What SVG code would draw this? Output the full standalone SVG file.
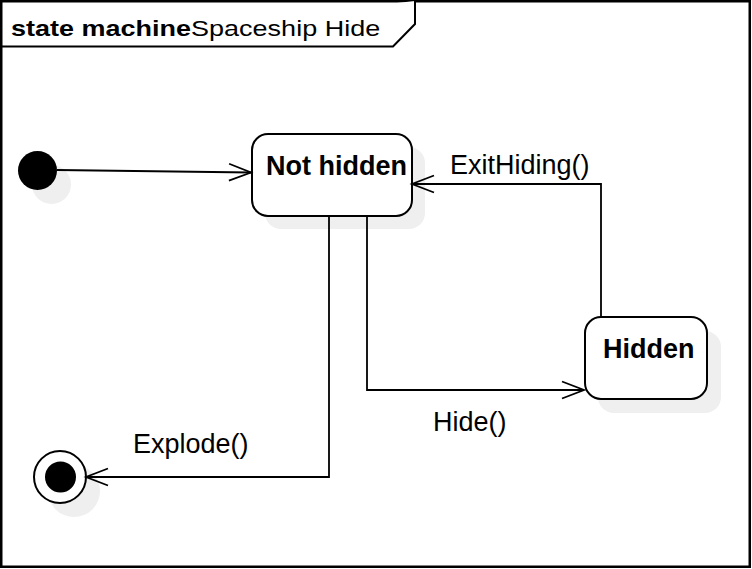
<svg xmlns="http://www.w3.org/2000/svg" width="752" height="569" viewBox="0 0 752 569">
<style>
.frame{fill:#ffffff;stroke:#000000;stroke-width:2.5}
.tab{fill:#ffffff;stroke:#000000;stroke-width:2}
.state{fill:#ffffff;stroke:#000000;stroke-width:2}
.shadow{fill:#efefef;stroke:none}
.edge{fill:none;stroke:#000000;stroke-width:1.8}
.lbl{font-family:"Liberation Sans",Arial,sans-serif;font-size:27px;fill:#000000}
.bold{font-weight:bold}
</style>
<defs>
<marker id="open" markerUnits="userSpaceOnUse" markerWidth="26" markerHeight="22" refX="23" refY="10" orient="auto">
<path d="M1,1.5 L23,10 L1,18.5" fill="none" stroke="#000000" stroke-width="1.8"/>
</marker>
</defs>
<rect class="frame" x="1.25" y="1.25" width="748.5" height="565.5"/>
<g id="frame-title">
<path class="tab" d="M1,46.5 L393,46.5 L415,24 L415,1"/>
<text class="lbl" transform="translate(11,36) scale(1,0.79)"><tspan class="bold">state machine</tspan>Spaceship Hide</text>
</g>
<g id="initial">
<circle class="shadow" cx="51.5" cy="184.5" r="19.5"/>
<circle cx="37.5" cy="170.5" r="19.5" fill="#000000"/>
</g>
<g id="not-hidden">
<rect class="shadow" x="265" y="147" width="160" height="82" rx="16"/>
<rect class="state" x="252" y="134" width="160" height="82" rx="16"/>
<text class="lbl bold" x="266" y="175">Not hidden</text>
</g>
<g id="hidden">
<rect class="shadow" x="598" y="331" width="123" height="82" rx="16"/>
<rect class="state" x="585" y="317" width="122" height="82" rx="16"/>
<text class="lbl bold" x="603" y="358">Hidden</text>
</g>
<g id="final">
<circle class="shadow" cx="74" cy="491" r="26"/>
<circle cx="60" cy="477" r="26" fill="#ffffff" stroke="#000000" stroke-width="2"/>
<circle cx="60.5" cy="477" r="15.5" fill="#000000"/>
</g>
<g id="connectors">
<path class="edge" d="M57,170 L251,172.5" marker-end="url(#open)"/>
<path class="edge" d="M367,216 L367,390 L584,390" marker-end="url(#open)"/>
<path class="edge" d="M601,317 L601,184 L412,184" marker-end="url(#open)"/>
<path class="edge" d="M329,216 L329,477 L86,477" marker-end="url(#open)"/>
</g>
<g id="labels">
<text class="lbl" x="450" y="174">ExitHiding()</text>
<text class="lbl" x="433" y="431">Hide()</text>
<text class="lbl" x="133" y="453">Explode()</text>
</g>
</svg>
